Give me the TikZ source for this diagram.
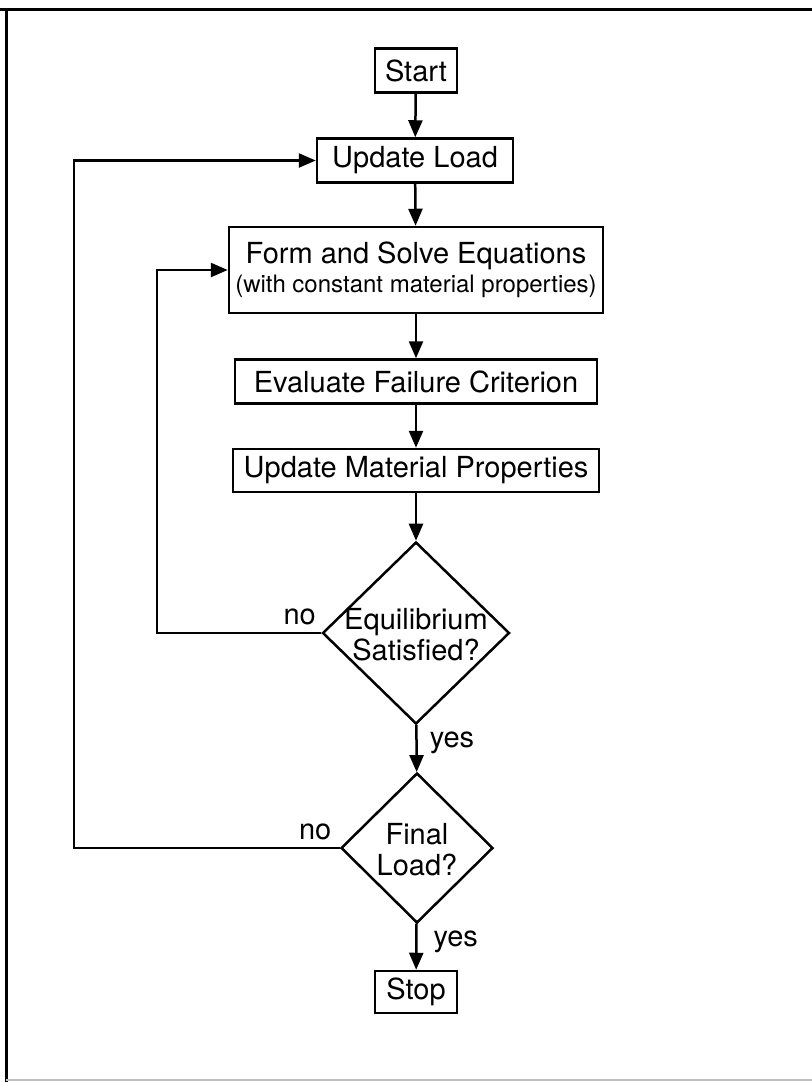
\documentclass[tikz,border=0pt]{standalone}
\usepackage{fontspec}
\setmainfont{TeX Gyre Heros}
\usetikzlibrary{positioning, arrows.meta, shapes.geometric}

% two-line text inside a diamond, kept out of the shape size
\newcommand{\qtext}[1]{\makebox[0pt]{\raisebox{-6.5pt}[0pt][0pt]{\begin{tabular}{@{}c@{}}#1\end{tabular}}}}

\begin{document}
\begin{tikzpicture}[x=0.5pt, y=-0.5pt,
        every node/.style={font=\fontsize{14.5}{15.5}\selectfont},
        process/.style={rectangle, draw, line width=1.25pt, inner sep=2pt, minimum height=22pt},
        decision/.style={diamond, draw, line width=1.25pt, inner sep=0pt},
        lbl/.style={inner sep=1pt},
        flow/.style={-{Triangle[length=8.5pt, width=7pt]}, line width=1.25pt}]
        \useasboundingbox (0,0) rectangle (812,1082);

        % Frame
        \draw[line width=1.5pt] (0,9) -- (812,9);
        \draw[line width=1.5pt] (6,9) -- (6,1082);
        \draw[gray!50, line width=1pt] (6,1080) -- (812,1080);

        % Nodes
        \node[process, minimum width=41pt] (start) at (416,70.5) {Start};
        \node[process, minimum width=98pt] (upload) at (415,160.5) {Update Load};
        \node[process, minimum width=187pt, minimum height=43pt, align=center] (form) at (416,270)
            {Form and Solve Equations\\[-1pt]{\fontsize{12}{14}\selectfont (with constant material properties)}};
        \node[process, minimum width=181pt] (evalfail) at (416,381.5) {Evaluate Failure Criterion};
        \node[process, minimum width=183pt, minimum height=21.5pt] (upmat) at (416,470.5) {Update Material Properties};
        \node[decision, minimum width=93.5pt, minimum height=91pt] (equil) at (416,633) {\qtext{Equilibrium\\Satisfied?}};
        \node[decision, minimum width=76pt, minimum height=75pt] (final) at (417,848) {\qtext{Final\\Load?}};
        \node[process, minimum width=41pt, minimum height=21pt] (stop) at (416,992) {Stop};

        \node[lbl, above left=3pt and 1.5pt of equil.west] (no1) {no};
        \node[lbl, above left=3pt and 3pt of final.west] (no2) {no};

        \coordinate (loopin) at (157,633);
        \coordinate (loopout) at (74,848);

        % Edges
        \draw[flow] (start) -- (upload);
        \draw[flow] (upload) -- (form);
        \draw[flow] (form) -- (evalfail);
        \draw[flow] (evalfail) -- (upmat);
        \draw[flow] (upmat) -- (equil);
        \draw[flow] (equil) -- node[lbl, right=5pt, pos=0.39] (yes1) {yes} (final);
        \draw[flow] (final) -- node[lbl, right=7pt, pos=0.4] (yes2) {yes} (stop);
        \draw[flow] (equil.west) -- (loopin) |- (form.west);
        \draw[flow] (final.west) -- (loopout) |- (upload.west);
\end{tikzpicture}
\end{document}
